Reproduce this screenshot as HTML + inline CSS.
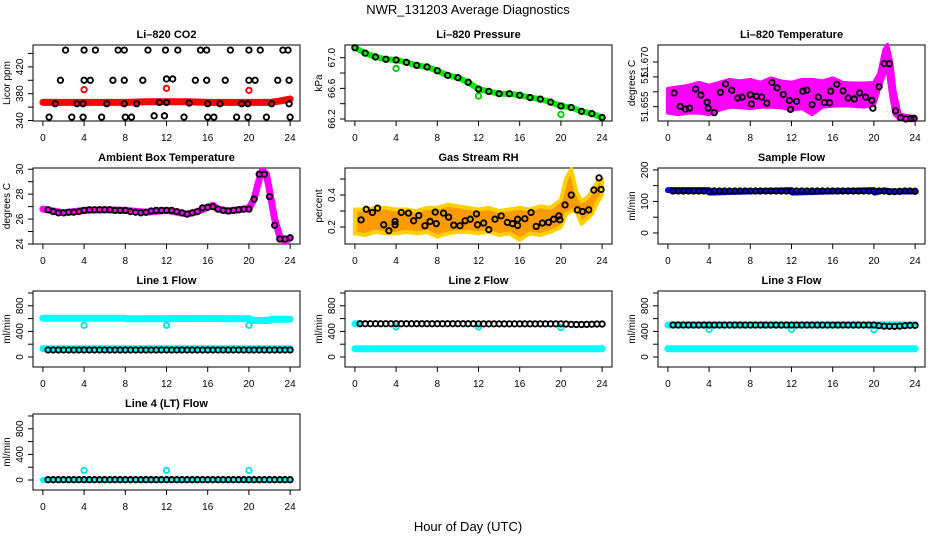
<!DOCTYPE html>
<html><head><meta charset="utf-8"><style>
body{margin:0;background:#fff}
svg text{font-family:"Liberation Sans",sans-serif}
</style></head><body>
<svg id="c" width="936" height="540" xmlns="http://www.w3.org/2000/svg">
<rect width="936" height="540" fill="#fff"/>
<text x="468" y="14" text-anchor="middle" font-size="13">NWR_131203  Average Diagnostics</text>
<text x="468" y="531" text-anchor="middle" font-size="13">Hour of Day (UTC)</text>
</svg>
<script>
const xTicks=[0,4,8,12,16,20,24];
const halfH=[0.5,1,1.5,2,2.5,3,3.5,4,4.5,5,5.5,6,6.5,7,7.5,8,8.5,9,9.5,10,10.5,11,11.5,12,12.5,13,13.5,14,14.5,15,15.5,16,16.5,17,17.5,18,18.5,19,19.5,20,20.5,21,21.5,22,22.5,23,23.5,24];
// CO2
const co2H=[2.2,4,5.1,7.3,7.9,10.2,11.9,13.1,15.3,15.9,18.2,20,21.1,23.3,23.8, 1.7,4,4.6,6.8,7.9,9.7,12,12.6,14.8,15.9,17.7,20,20.6,22.8,23.9, 1.2,3.3,3.9,6.2,7.9,9.1,11.3,12,14.2,16,17.2,19.3,19.9,22.2,23.9, 0.6,2.8,3.9,5.7,8,8.6,10.8,11.8,13.7,16,16.6,18.8,19.9,21.7,24];
const co2V=[445,445,445,445,445,445,445,445,445,445,445,445,445,445,445, 400,400,400,400,400,400,402,402,400,400,400,400,400,400,400, 365,365,365,365,365,365,367,367,366,365,365,365,365,365,365, 345,345,345,345,345,345,347,347,345,345,345,345,345,345,345];
const co2RedH=[0,2,4,6,8,10,12,14,16,18,20,21,22,23,24];
const co2RedV=[367,367,367,367,367,368,368,368,367,367,367,367,367,369,372];
const co2OutH=[4,12,20], co2OutV=[386,388,385];
// Pressure
const presH=[0,1,2,3,4,5,6,7,8,9,10,11,12,13,14,15,16,17,18,19,20,21,22,23,24];
const presV=[67.13,67.06,67.01,66.98,66.97,66.94,66.90,66.88,66.83,66.77,66.74,66.68,66.59,66.56,66.53,66.53,66.51,66.48,66.46,66.42,66.37,66.35,66.30,66.27,66.22];
const presOutH=[4,12,20], presOutV=[66.86,66.50,66.26];
// Li-820 temperature
const tBandH=[0,1,2,3,4,5,6,7,8,9,10,11,12,13,14,15,16,17,18,19,20,20.5,21,21.3,21.7,22,22.5,23,24];
const tBandLo=[51.653,51.6525,51.653,51.653,51.6525,51.654,51.655,51.6548,51.6545,51.655,51.655,51.6548,51.654,51.6545,51.6525,51.655,51.6553,51.6555,51.6553,51.655,51.6555,51.661,51.666,51.668,51.658,51.6525,51.6508,51.6505,51.6505];
const tBandHi=[51.661,51.6615,51.662,51.663,51.662,51.663,51.664,51.6635,51.664,51.663,51.6645,51.6635,51.663,51.664,51.664,51.6635,51.6645,51.663,51.6628,51.6628,51.663,51.666,51.674,51.6757,51.6697,51.6605,51.6525,51.652,51.6515];
const tPtH=[0.6,1.2,1.7,2.1,2.7,3.2,3.8,3.9,4.5,5.1,5.6,6.2,6.8,7.2,8,8.1,8.6,9.1,9.6,10.1,10.6,11.2,11.8,11.9,12.5,13.1,13.5,14,14.6,15.2,15.7,15.8,16.4,17,17.5,18.1,18.6,19.2,19.8,19.9,20.5,21,21.5,22.1,22.6,23.1,23.6,23.9];
const tPtV=[51.6596,51.6551,51.6542,51.6545,51.6609,51.6589,51.6565,51.6545,51.6530,51.6598,51.6626,51.6605,51.6579,51.6582,51.6590,51.6559,51.6585,51.6582,51.6562,51.6631,51.6613,51.6591,51.6571,51.6541,51.6568,51.6602,51.6605,51.6557,51.6582,51.6564,51.6563,51.6602,51.6625,51.6603,51.6579,51.6576,51.6596,51.6582,51.6571,51.6545,51.6617,51.6695,51.6694,51.6536,51.6513,51.6509,51.6510,51.6511];
// Ambient
const ambLineH=[0,2,4,6,8,10,12,14,15,16,16.5,17,18,19,20,20.5,21,21.3,21.7,22,22.5,23,23.5,24];
const ambLineV=[26.8,26.5,26.7,26.75,26.7,26.55,26.7,26.4,26.6,26.95,27.1,26.8,26.65,26.75,26.85,27.6,29.2,29.9,29.6,28.3,26.0,24.6,24.2,24.5];
const ambPtV=[26.75,26.6,26.5,26.5,26.55,26.55,26.6,26.7,26.75,26.75,26.75,26.75,26.75,26.7,26.7,26.7,26.6,26.55,26.5,26.55,26.65,26.7,26.7,26.7,26.7,26.6,26.5,26.4,26.5,26.6,26.9,26.95,27.0,26.8,26.7,26.65,26.7,26.75,26.8,26.8,27.6,29.6,29.6,27.8,25.5,24.4,24.4,24.5];
// Gas RH
const rhBandH=[0,1,2,3,4,5,6,7,8,9,10,11,12,13,14,15,16,17,18,19,20,20.5,21,21.5,22,22.5,23,23.5,24];
const rhBandLo=[0.16,0.15,0.17,0.16,0.16,0.17,0.16,0.17,0.14,0.16,0.17,0.17,0.16,0.17,0.15,0.16,0.12,0.16,0.15,0.17,0.2,0.28,0.3,0.3,0.22,0.25,0.28,0.35,0.4];
const rhBandHi=[0.31,0.31,0.32,0.32,0.31,0.31,0.3,0.32,0.32,0.34,0.33,0.32,0.31,0.32,0.3,0.31,0.32,0.31,0.33,0.32,0.37,0.5,0.56,0.42,0.36,0.38,0.42,0.48,0.5];
const rhPtH=[0.6,1.1,1.7,2.2,2.8,3.3,3.9,3.9,4.5,5.2,5.7,6.2,6.8,7.3,7.8,7.9,8.6,9.1,9.6,10.2,10.7,11.2,11.8,11.9,12.5,13,13.6,14.2,14.8,15.3,15.8,15.8,16.5,17.1,17.6,18.2,18.8,19.3,19.8,19.9,20.4,21,21.6,22.1,22.7,23.2,23.7,23.9];
const rhPtV=[0.245,0.311,0.291,0.318,0.214,0.177,0.235,0.214,0.291,0.287,0.239,0.272,0.208,0.235,0.293,0.221,0.287,0.262,0.212,0.208,0.239,0.249,0.282,0.214,0.225,0.184,0.249,0.270,0.229,0.221,0.210,0.249,0.252,0.291,0.204,0.225,0.229,0.249,0.270,0.245,0.338,0.400,0.307,0.297,0.307,0.431,0.507,0.435];
// Sample flow
const sfLineH=[0,4,4.1,12,12.1,20,20.1,21,22,24];
const sfLineV=[136,136,128,136,128,136,128,135,131,132];
const sfPtV=[133,133,133,133,133,133,133,131,133,133,133,133,133,133,133,133,133,133,133,133,133,133,133,132,133,133,133,133,133,133,133,133,133,133,133,133,133,133,133,132,133,133,131,131,132,133,133,132];
// Line flows
const l1TopH=[0,4,8,8.1,12,16,20,20.5,22,22.1,24], l1TopV=[605,605,605,598,600,602,598,570,570,590,590];
const l1LowH=[0,24], l1LowV=[130,130];
const l1PtV=[110,110,110,110,110,110,110,110,110,110,110,110,110,110,110,110,110,110,110,110,110,110,110,110,110,110,110,110,110,110,110,110,110,110,110,110,110,110,110,110,110,110,110,110,110,110,110,110];
const l1OutH=[4,12,20], l1OutV=[495,495,495];
const l2TopH=[0,0.5], l2TopV=[520,520];
const l2LowH=[0,24], l2LowV=[130,130];
const l2PtV=[520,520,520,520,520,520,520,520,520,520,520,520,520,520,520,520,520,520,520,520,520,520,520,518,518,518,518,518,518,518,518,518,518,518,518,518,518,518,518,518,515,510,508,508,510,512,515,515];
const l2OutH=[4,12,20], l2OutV=[470,470,460];
const l3TopH=[0,24], l3TopV=[500,500];
const l3LowH=[0,24], l3LowV=[130,130];
const l3PtV=[500,500,500,500,500,500,500,500,500,500,500,500,500,500,500,500,500,500,500,500,500,500,500,500,500,500,500,500,500,500,500,500,500,500,500,500,500,500,500,500,490,482,480,478,482,490,495,495];
const l3OutH=[4,12,20], l3OutV=[430,430,425];
const l4LowH=[0,24], l4LowV=[0,0];
const l4PtV=[5,5,5,5,5,5,5,5,5,5,5,5,5,5,5,5,5,5,5,5,5,5,5,5,5,5,5,5,5,5,5,5,5,5,5,5,5,5,5,5,5,5,5,5,5,5,5,5];
const l4OutH=[4,12,20], l4OutV=[150,150,150];
const flowTicks=[0,200,400,600,800,1000], flowLabels=["0","","400","","800",""];

const NS="http://www.w3.org/2000/svg";
const svg=document.getElementById('c');
function el(t,a,p){const e=document.createElementNS(NS,t);for(const k in a)e.setAttribute(k,a[k]);(p||svg).appendChild(e);return e;}
const cols=[33,345,658], rows=[45,168,291,414], PW=267, PH=76;
function panel(name,title,c,r,ylim,yt,yl,ytitle){
  const L=cols[c],T=rows[r];
  const g=el('g',{});
  
  
  const sx=h=>L+(h+0.96)/25.92*PW;
  const sy=v=>T+PH-(v-ylim[0])/(ylim[1]-ylim[0])*PH;
  const b=el('rect',{x:L,y:T,width:PW,height:PH,fill:'none',stroke:'#000','stroke-width':1},g);
  
  
  const tt=el('text',{x:L+PW/2,y:T-7,'text-anchor':'middle','font-size':11,'font-weight':'bold'},g);
  tt.textContent=title;
  
  
  xTicks.forEach(h=>{
    el('line',{x1:sx(h),x2:sx(h),y1:T+PH,y2:T+PH+5,stroke:'#000'},g);
    const t=el('text',{x:sx(h),y:T+PH+20,'text-anchor':'middle','font-size':10},g);
    t.textContent=h;
    
    
  });
  yt.forEach((v,i)=>{
    el('line',{x1:L-5,x2:L,y1:sy(v),y2:sy(v),stroke:'#000'},g);
    if(yl[i]){const t=el('text',{x:0,y:0,'text-anchor':'middle','font-size':10,transform:`translate(${L-10},${sy(v)}) rotate(-90)`},g);
      t.textContent=yl[i];
      
      }
  });
  const yt2=el('text',{x:0,y:0,'text-anchor':'middle','font-size':10,transform:`translate(${L-23},${T+PH/2}) rotate(-90)`},g);
  yt2.textContent=ytitle;
  
  
  return {g,sx,sy};
}
function line(p,H,V,col,w,name){
  const pl=el('polyline',{points:H.map((h,i)=>p.sx(h)+','+p.sy(V[i])).join(' '),fill:'none',stroke:col,'stroke-width':w,'stroke-linejoin':'round','stroke-linecap':'round'},p.g);
  
  
}
function band(p,H,lo,hi,fill,stroke,name){
  const pts=H.map((h,i)=>p.sx(h)+','+p.sy(hi[i])).concat(H.slice().reverse().map((h,j)=>p.sx(h)+','+p.sy(lo[H.length-1-j])));
  const pg=el('polygon',{points:pts.join(' '),fill:fill,stroke:stroke,'stroke-width':4,'stroke-linejoin':'round'},p.g);
  
  
}
function pts(p,H,V,col,name,r){
  H.forEach((h,i)=>{
    const c=el('circle',{cx:p.sx(h),cy:p.sy(V[i]),r:r||2.7,fill:'none',stroke:col,'stroke-width':1.9},p.g);
    
    
  });
}
// Panels
let p=panel('co2','Li\u2013820 CO2',0,0,[339.3,452.6],[340,360,380,400,420,440],["340","","380","","420",""],'Licor ppm');
line(p,co2RedH,co2RedV,'#ff0000',7,'co2-red-series');
pts(p,co2OutH,co2OutV,'#ff0000','co2-red-point');
pts(p,co2H,co2V,'#000','co2-point');

p=panel('pressure','Li\u2013820 Pressure',1,0,[66.174,67.166],[66.2,66.4,66.6,66.8,67.0],["66.2","","66.6","","67.0"],'kPa');
line(p,presH,presV,'#00ee00',6,'pressure-green-series');
pts(p,presOutH,presOutV,'#00cc00','pressure-green-point');
pts(p,presH,presV,'#000','pressure-point');

p=panel('li820-temp','Li\u2013820 Temperature',2,0,[51.6502,51.6757],[51.655,51.660,51.665,51.670],["51.655","","51.","51.670"],'degrees C');
band(p,tBandH,tBandLo,tBandHi,'#ff00ff','#ff00ff','temp-magenta-band');
pts(p,tPtH,tPtV,'#000','temp-point');

p=panel('ambient','Ambient Box Temperature',0,1,[24,30.1],[24,25,26,27,28,29,30],["24","","26","","28","","30"],'degrees C');
line(p,ambLineH,ambLineV,'#ff00ff',7,'ambient-magenta-series');
pts(p,halfH,ambPtV,'#000','ambient-point');

p=panel('gas-rh','Gas Stream RH',1,1,[0.094,0.569],[0.2,0.3,0.4,0.5],["0.2","","0.4",""],'percent');
band(p,rhBandH,rhBandLo,rhBandHi,'#ff9a00','#ffd000','rh-orange-band');
pts(p,rhPtH,rhPtV,'#000','rh-point');

p=panel('sample-flow','Sample Flow',2,1,[-35,206],[0,50,100,150,200],["0","","100","","200"],'ml/min');
line(p,sfLineH,sfLineV,'#0000ff',6,'sample-flow-blue-series');
pts(p,halfH,sfPtV,'#000','sample-flow-point');

p=panel('line1-flow','Line 1 Flow',0,2,[-156,1031],flowTicks,flowLabels,'ml/min');
line(p,l1TopH,l1TopV,'#00ffff',7,'line1-cyan-upper');
line(p,l1LowH,l1LowV,'#00ffff',7,'line1-cyan-lower');
pts(p,l1OutH,l1OutV,'#00e5e5','line1-cyan-point');
pts(p,halfH,l1PtV,'#000','line1-point');

p=panel('line2-flow','Line 2 Flow',1,2,[-156,1031],flowTicks,flowLabels,'ml/min');
line(p,l2TopH,l2TopV,'#00ffff',7,'line2-cyan-upper');
line(p,l2LowH,l2LowV,'#00ffff',7,'line2-cyan-lower');
pts(p,l2OutH,l2OutV,'#00e5e5','line2-cyan-point');
pts(p,halfH,l2PtV,'#000','line2-point');

p=panel('line3-flow','Line 3 Flow',2,2,[-156,1031],flowTicks,flowLabels,'ml/min');
line(p,l3TopH,l3TopV,'#00ffff',7,'line3-cyan-upper');
line(p,l3LowH,l3LowV,'#00ffff',7,'line3-cyan-lower');
pts(p,l3OutH,l3OutV,'#00e5e5','line3-cyan-point');
pts(p,halfH,l3PtV,'#000','line3-point');

p=panel('line4-flow','Line 4 (LT) Flow',0,3,[-156,1031],flowTicks,flowLabels,'ml/min');
line(p,l4LowH,l4LowV,'#00ffff',6,'line4-cyan-lower');
pts(p,l4OutH,l4OutV,'#00e5e5','line4-cyan-point');
pts(p,halfH,l4PtV,'#000','line4-point');
</script>
</body></html>
